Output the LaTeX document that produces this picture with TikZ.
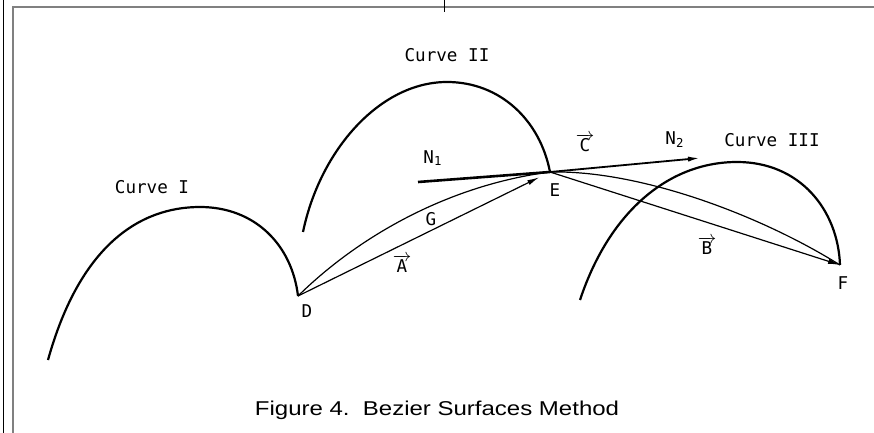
\documentclass[tikz,border=0pt]{standalone}
\usepackage{fontspec}
\usepackage{tikz}
\usetikzlibrary{arrows.meta}
\newfontfamily\dotfont{DejaVu Sans Mono}
\newfontfamily\capfont[FakeStretch=1.2]{Liberation Sans}

\begin{document}
\begin{tikzpicture}[x=0.5pt,y=-0.5pt,
  curve/.style={line width=1.1pt},
  vect/.style={line width=0.6pt,-{Latex[length=6pt,width=2.6pt]}},
  lbl/.style={font=\dotfont\fontsize{8.8pt}{10pt}\selectfont,inner sep=0pt}]
\useasboundingbox (0,0) rectangle (874,433);
% frame of the page
\draw[gray,line width=1pt] (13,433) -- (13,7) -- (874,7);
\draw[line width=0.5pt] (3,0) -- (3,433);
\draw[line width=0.4pt] (444,0) -- (444,12);
% joint points and normal line
\coordinate (D) at (298,296);
\coordinate (E) at (550,172);
\coordinate (F) at (840,265);
\coordinate (n1) at (418,182);
\coordinate (n2) at (700,158);
% the three curves
\draw[curve] (48,360) .. controls (80,245) and (140,207) .. (200,207)
  .. controls (255,207) and (292,245) .. (D);
\draw[curve] (303,232) .. controls (320,150) and (380,82) .. (447,82)
  .. controls (500,82) and (540,120) .. (E);
\draw[curve] (580,300) .. controls (610,210) and (670,162) .. (737,162)
  .. controls (800,162) and (838,210) .. (F);
% vectors
\draw[line width=1.3pt] (n1) -- (E);
\draw[vect,line width=0.9pt] (E) -- (n2);
\draw[vect,shorten >=6pt] (D) -- (E);
\draw[line width=0.6pt] (D) .. controls (360,235) and (450,185) .. (E);
\draw[vect] (E) -- (F);
\draw[line width=0.6pt] (E) .. controls (640,170) and (760,215) .. (F);
% labels
\node[lbl] (cI) at (152,187) {Curve I};
\node[lbl] (cII) at (447,55) {Curve II};
\node[lbl] (cIII) at (772,140) {Curve III};
\node[lbl] (lN1) at (433,158) {N\textsubscript{1}};
\node[lbl] (lN2) at (675,140) {N\textsubscript{2}};
\node[lbl] (lC) at (585,143) {$\overrightarrow{\mbox{C}}$};
\node[lbl] (lA) at (402,264) {$\overrightarrow{\mbox{A}}$};
\node[lbl] (lB) at (707,246) {$\overrightarrow{\mbox{B}}$};
\node[lbl] (lG) at (431,219) {G};
\node[lbl] (lD) at (307,311) {D};
\node[lbl] (lE) at (555,190) {E};
\node[lbl] (lF) at (843,283) {F};
\node[font=\capfont\fontsize{10pt}{12pt}\selectfont] (cap) at (437,410)
  {Figure 4.\ \ Bezier Surfaces Method};
\end{tikzpicture}
\end{document}
